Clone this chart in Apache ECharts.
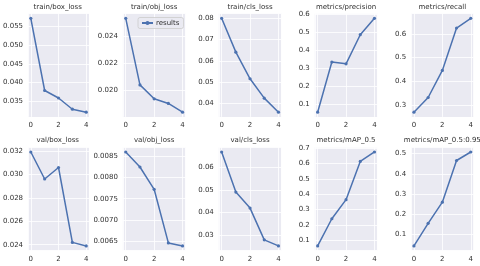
<!DOCTYPE html>
<html>
<head>
<meta charset="utf-8">
<script src="https://cdn.jsdelivr.net/npm/echarts@6/dist/echarts.min.js"></script>
<style>html,body{margin:0;padding:0;background:#fff}#c{width:480px;height:266px}</style>
</head>
<body>
<div id="c"></div>
<script>
var epochs = [0, 1, 2, 3, 4];
var xTickStep = 2;
var titles = ['train/box_loss', 'train/obj_loss', 'train/cls_loss', 'metrics/precision', 'metrics/recall',
              'val/box_loss', 'val/obj_loss', 'val/cls_loss', 'metrics/mAP_0.5', 'metrics/mAP_0.5:0.95'];
var trainBoxLoss = [0.0572, 0.0379, 0.0359, 0.0329, 0.0321];
var trainObjLoss = [0.02529, 0.02041, 0.01939, 0.01905, 0.01841];
var trainClsLoss = [0.0800, 0.0641, 0.0516, 0.0425, 0.0359];
var precision = [0.053, 0.334, 0.324, 0.487, 0.579];
var recall = [0.270, 0.332, 0.446, 0.625, 0.666];
var valBoxLoss = [0.0319, 0.0296, 0.03058, 0.0242, 0.0239];
var valObjLoss = [0.00859, 0.00824, 0.00772, 0.00647, 0.00640];
var valClsLoss = [0.0668, 0.0490, 0.0419, 0.0278, 0.0251];
var mAP50 = [0.065, 0.241, 0.365, 0.613, 0.674];
var mAP5095 = [0.0435, 0.155, 0.260, 0.466, 0.508];
var yTickSteps = [0.005, 0.002, 0.01, 0.1, 0.1, 0.002, 0.0005, 0.01, 0.1, 0.1];
var seriesName = 'results';

var allSeries = [trainBoxLoss, trainObjLoss, trainClsLoss, precision, recall,
                 valBoxLoss, valObjLoss, valClsLoss, mAP50, mAP5095];

var colLefts = [26.5, 122.9, 218.8, 314.8, 411.1];
var rowTops = [13.6, 147.3];
var plotW = 62.5, plotH = 103.3;
var textColor = '#303030';
var font = 'DejaVu Sans';

var grids = [], xAxes = [], yAxes = [], series = [], titleEls = [];
allSeries.forEach(function (vals, i) {
  var r = Math.floor(i / 5), c = i % 5;
  grids.push({left: colLefts[c], top: rowTops[r], width: plotW, height: plotH,
    show: true, backgroundColor: '#EAEAF2', borderWidth: 0, containLabel: false});
  var xmin = epochs[0], xmax = epochs[epochs.length - 1], xr = xmax - xmin;
  xAxes.push({type: 'value', gridIndex: i, min: xmin - 0.05 * xr, max: xmax + 0.05 * xr,
    minInterval: xTickStep, maxInterval: xTickStep,
    axisLine: {show: false}, axisTick: {show: false},
    axisLabel: {fontSize: 7, color: textColor, fontFamily: font, margin: 5, showMinLabel: false, showMaxLabel: false},
    splitLine: {show: true, lineStyle: {color: '#ffffff', width: 0.8}}});
  var lo = Math.min.apply(null, vals), hi = Math.max.apply(null, vals), rg = hi - lo;
  yAxes.push({type: 'value', gridIndex: i, min: lo - 0.05 * rg, max: hi + 0.05 * rg,
    minInterval: yTickSteps[i], maxInterval: yTickSteps[i], scale: true,
    axisLine: {show: false}, axisTick: {show: false},
    axisLabel: {fontSize: 7, color: textColor, fontFamily: font, margin: 5, showMinLabel: false, showMaxLabel: false,
      formatter: function (v) {
        var s = yTickSteps[i];
        var d = Math.ceil(-Math.log10(s) - 1e-9);
        return v.toFixed(d);
      }},
    splitLine: {show: true, lineStyle: {color: '#ffffff', width: 0.8}}});
  series.push({type: 'line', name: seriesName, xAxisIndex: i, yAxisIndex: i,
    data: epochs.map(function (e, k) { return [e, vals[k]]; }),
    symbol: 'circle', symbolSize: 3.2, showSymbol: true,
    lineStyle: {color: '#4C72B0', width: 1.5}, itemStyle: {color: '#4C72B0'},
    animation: false});
  titleEls.push({type: 'text', x: colLefts[c] + plotW / 2, y: rowTops[r] - 6.8,
    style: {text: titles[i], align: 'center', verticalAlign: 'middle',
      fontSize: 7, fill: textColor, fontFamily: font}});
});

var chart = echarts.init(document.getElementById('c'), null, {renderer: 'canvas'});
chart.setOption({
  animation: false,
  graphic: titleEls,
  grid: grids,
  xAxis: xAxes,
  yAxis: yAxes,
  series: series,
  legend: {data: [seriesName], left: 138, top: 17.5, orient: 'vertical',
    itemWidth: 11, itemHeight: 5, itemGap: 2,
    padding: [2, 4, 2, 3], borderColor: '#cccccc', borderWidth: 0.8, borderRadius: 2,
    backgroundColor: 'rgba(234,234,242,0.85)',
    textStyle: {fontSize: 7, color: textColor, fontFamily: font, padding: [0, 0, 0, -2]}}
});
</script>
</body>
</html>
